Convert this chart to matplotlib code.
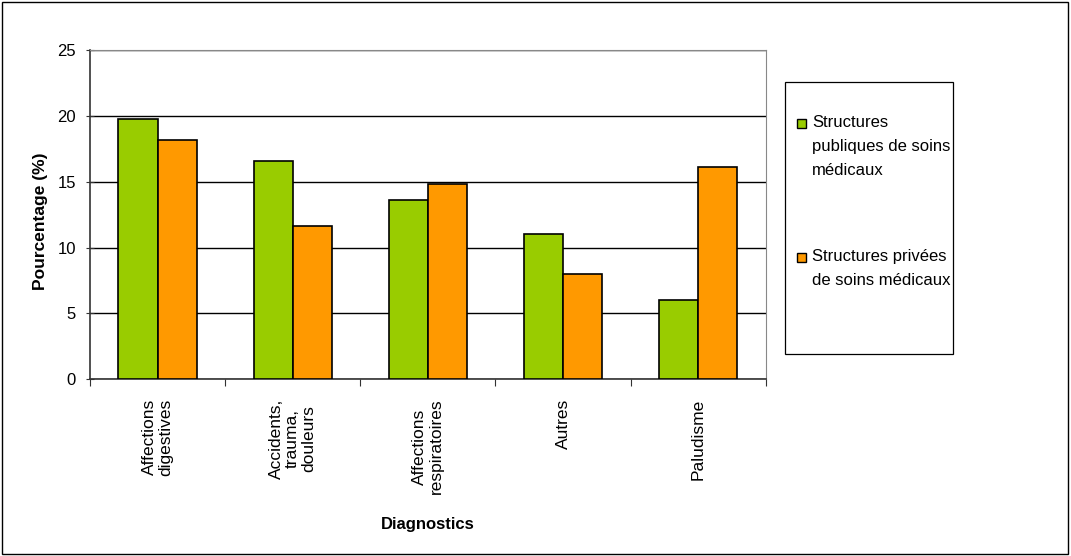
import matplotlib
matplotlib.use("Agg")
import matplotlib.pyplot as plt
from matplotlib.patches import Rectangle
import numpy as np

categories = ["Affections\ndigestives", "Accidents,\ntrauma,\ndouleurs",
              "Affections\nrespiratoires", "Autres", "Paludisme"]
publiques = [19.8, 16.6, 13.6, 11.0, 6.0]
privees = [18.2, 11.6, 14.8, 8.0, 16.1]
series_names = ["Structures\npubliques de soins\nmédicaux",
                "Structures privées\nde soins médicaux"]
colors = ["#99cc00", "#ff9900"]

plt.rcParams['font.family'] = ['Liberation Sans', 'DejaVu Sans']

fig = plt.figure(figsize=(10.71, 5.56), dpi=100)
ax = fig.add_axes([0.084, 0.318, 0.631, 0.592])

x = np.arange(len(categories))
w = 0.29
ax.bar(x - w / 2, publiques, w, color=colors[0], edgecolor="black", linewidth=1.2, zorder=3)
ax.bar(x + w / 2, privees, w, color=colors[1], edgecolor="black", linewidth=1.2, zorder=3)

ax.set_xlim(-0.5, len(categories) - 0.5)
ax.set_ylim(0, 25)
ax.set_yticks([0, 5, 10, 15, 20, 25])
ax.yaxis.grid(True, color="black", linewidth=1.0, zorder=0)
ax.set_axisbelow(True)

# tick marks between categories, labels at the centres
ax.set_xticks(np.arange(len(categories) + 1) - 0.5)
ax.set_xticklabels([])
ax.set_xticks(x, minor=True)
ax.set_xticklabels(categories, minor=True, rotation=90, fontsize=12.5, ha="center", va="top",
                   linespacing=1.1)
ax.tick_params(axis="x", which="minor", length=0, pad=14)
ax.tick_params(axis="x", which="major", length=5, direction="out", color="#333333")
ax.tick_params(axis="y", length=6, direction="inout", pad=7, labelsize=12, color="#333333")

for s in ["top", "right"]:
    ax.spines[s].set_color("#888888")
for s in ["left", "bottom"]:
    ax.spines[s].set_color("#333333")
    ax.spines[s].set_linewidth(1.2)

ax.set_ylabel("Pourcentage (%)", fontsize=12.5, fontweight="bold")
ax.yaxis.set_label_coords(-0.062, 0.48)
fig.text(0.399, 0.056, "Diagnostics", fontsize=12, fontweight="bold",
         ha="center", va="center")

# legend box drawn by hand: square marker aligned on the first text line
fig.patches.append(Rectangle((0.733, 0.3633), 0.1569, 0.489, transform=fig.transFigure,
                             fill=False, edgecolor="black", linewidth=0.9))
legend_tops = [0.794, 0.553]
for name, col, ytop in zip(series_names, colors, legend_tops):
    fig.patches.append(Rectangle((0.7445, ytop - 0.0235), 0.0084, 0.0162,
                                 transform=fig.transFigure, facecolor=col,
                                 edgecolor="black", linewidth=1))
    fig.text(0.758, ytop, name, fontsize=12, ha="left", va="top",
             linespacing=1.75)

fig.patches.append(Rectangle((0.002, 0.004), 0.995, 0.992, transform=fig.transFigure,
                             fill=False, edgecolor="black", linewidth=1))

fig.savefig("out.png", dpi=100)
